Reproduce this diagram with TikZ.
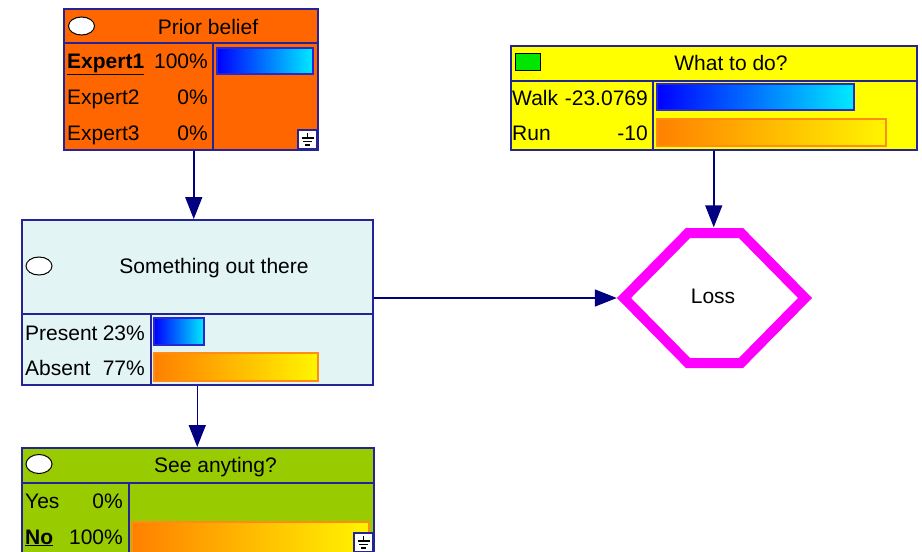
\documentclass[tikz,border=0pt]{standalone}
\usepackage{fontspec}
\setmainfont{Liberation Sans}
\usetikzlibrary{arrows.meta}
\definecolor{nav}{RGB}{36,36,150}
\definecolor{lnk}{RGB}{0,0,128}
\definecolor{pri}{RGB}{255,102,0}
\definecolor{yel}{RGB}{255,255,0}
\definecolor{sotc}{RGB}{226,244,244}
\definecolor{seec}{RGB}{153,204,0}
\definecolor{mag}{RGB}{255,0,255}
\definecolor{bbd}{RGB}{40,40,210}
\definecolor{obd}{RGB}{255,140,20}
\definecolor{orgA}{RGB}{255,128,0}
\definecolor{orgB}{RGB}{255,245,0}
\definecolor{blA}{RGB}{0,0,255}
\definecolor{blB}{RGB}{0,235,255}
\definecolor{grn}{RGB}{0,230,0}
\tikzset{
  gnd/.pic={
    \draw[draw=nav,fill=white,line width=1.2pt] (0,0) rectangle (19,19);
    \draw[black,line width=1.3pt] (9.5,3) -- (9.5,8) (3.5,8) -- (15.5,8) (5,11.5) -- (14,11.5) (7,15) -- (12,15);
  }
}
\begin{document}
\begin{tikzpicture}[x=1pt,y=-1pt,
  every node/.style={font=\fontsize{21}{24}\selectfont},
  box/.style={draw=nav,line width=1.5pt,inner sep=0pt,anchor=north west},
  divline/.style={draw=nav,line width=1.5pt},
  txt/.style={inner sep=0pt,text height=15pt,text depth=0pt},
  bluebar/.style={draw=bbd,line width=1.2pt,left color=blA,right color=blB},
  orbar/.style={draw=obd,line width=1.2pt,left color=orgA,right color=orgB},
  oval/.style={draw=black,fill=white,line width=1pt},
  arr/.style={draw=lnk,line width=1.5pt,-{Triangle[width=17pt,length=22pt]}}]
\clip (0,0) rectangle (922,552);
\fill[white] (0,0) rectangle (922,552);

% Prior belief
\node[box,fill=pri,minimum width=254pt,minimum height=141pt] (prior) at (63,8) {};
\draw[divline] (63,43) -- (317,43) (213,43) -- (213,149);
\draw[oval] (81.5,26) ellipse [x radius=13, y radius=9];
\node[txt] (priort) at (208,26.5) {Prior belief};
\draw[bluebar] (217,48) rectangle (313,74);
\node[txt,anchor=west] (e1) at (67,61) {\underline{\textbf{Expert1}}};
\node[txt,anchor=east] (e1p) at (208,61) {100\%};
\node[txt,anchor=west] (e2) at (67,97) {Expert2};
\node[txt,anchor=east] (e2p) at (208,97) {0\%};
\node[txt,anchor=west] (e3) at (67,133) {Expert3};
\node[txt,anchor=east] (e3p) at (208,133) {0\%};
\pic at (298,130) {gnd};

% What to do
\node[box,fill=yel,minimum width=406pt,minimum height=104pt] (what) at (510,45) {};
\draw[divline] (510,81) -- (916,81) (653,81) -- (653,149);
\draw[black,fill=grn,line width=1pt] (515,53) rectangle (540,70);
\node[txt] (whatt) at (731,62.5) {What to do?};
\draw[bluebar] (657,84) rectangle (854,110);
\draw[orbar] (657,119) rectangle (886,146);
\node[txt,anchor=west] (walk) at (512,97.5) {Walk};
\node[txt,anchor=east] (walkv) at (648,97.5) {-23.0769};
\node[txt,anchor=west] (run) at (512,132.5) {Run};
\node[txt,anchor=east] (runv) at (648,132.5) {-10};

% Something out there
\node[box,fill=sotc,minimum width=351pt,minimum height=165pt] (sot) at (21,219) {};
\draw[divline] (21,314) -- (372,314) (151,314) -- (151,384);
\draw[oval] (39,266) ellipse [x radius=13, y radius=9];
\node[txt] (sott) at (214,266) {Something out there};
\draw[bluebar] (154,318) rectangle (204,345);
\draw[orbar] (154,353) rectangle (318,381);
\node[txt,anchor=west] (pres) at (25,332.5) {Present};
\node[txt,anchor=east] (presv) at (145,332.5) {23\%};
\node[txt,anchor=west] (abs) at (25,367.5) {Absent};
\node[txt,anchor=east] (absv) at (145,367.5) {77\%};

% See anyting
\node[box,fill=seec,minimum width=352pt,minimum height=125pt] (see) at (21,447) {};
\draw[divline] (21,483) -- (373,483) (129,483) -- (129,572);
\draw[oval] (39,464) ellipse [x radius=13, y radius=9.5];
\node[txt] (seet) at (215.5,464.5) {See anyting?};
\draw[orbar] (132,522) rectangle (369,560);
\node[txt,anchor=west] (yes) at (25,500.5) {Yes};
\node[txt,anchor=east] (yesv) at (123,500.5) {0\%};
\node[txt,anchor=west] (no) at (25,536.5) {\underline{\textbf{No}}};
\node[txt,anchor=east] (nov) at (123,536.5) {100\%};
\pic at (354,533) {gnd};

% Loss
\node[minimum width=195pt,minimum height=141pt,inner sep=0pt] (loss) at (714.5,298) {};
\draw[mag,line width=10pt,line join=miter] (624,298) -- (688,233) -- (741,233) -- (805,298) -- (741,363) -- (688,363) -- cycle;
\node[txt] (losst) at (713,295.5) {Loss};

% connectors
\draw[arr] ([xshift=3pt]prior.south) -- ([xshift=3pt]prior.south |- sot.north);
\draw[arr] (sot.south) -- (sot.south |- see.north);
\draw[arr] (what.south) -- (what.south |- loss.north);
\draw[arr] (sot.east |- loss.west) -- (loss.west);
\end{tikzpicture}
\end{document}
